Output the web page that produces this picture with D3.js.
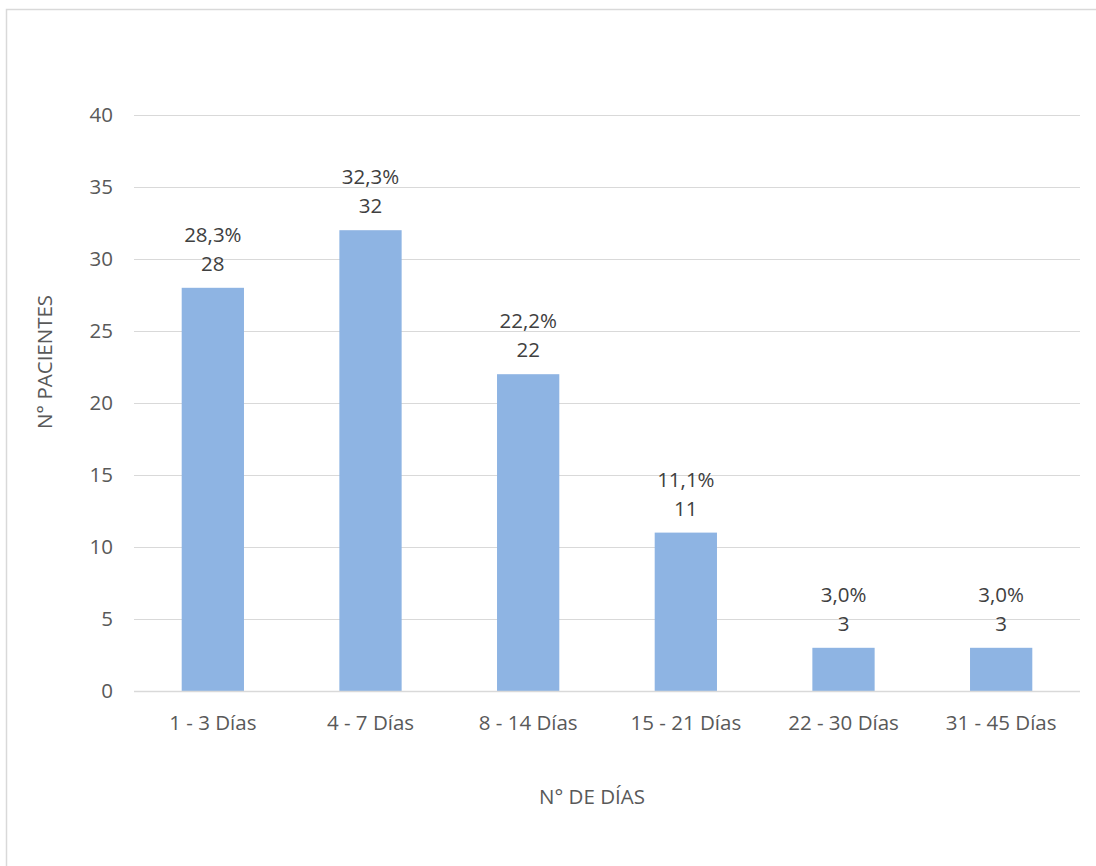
<!DOCTYPE html>
<html>
<head>
<meta charset="utf-8">
<script src="https://cdn.jsdelivr.net/npm/d3@7"></script>
<style>
  html, body { margin: 0; padding: 0; background: #fff; }
  svg { display: block; font-family: "Open Sans", "Liberation Sans", sans-serif; }
</style>
</head>
<body>
<svg id="chart" width="1096" height="866"></svg>
<script>
// Hospital stay distribution
const categories = ["1 - 3 Días", "4 - 7 Días", "8 - 14 Días", "15 - 21 Días", "22 - 30 Días", "31 - 45 Días"];
const patients = [28, 32, 22, 11, 3, 3];
const percentLabels = ["28,3%", "32,3%", "22,2%", "11,1%", "3,0%", "3,0%"];
const yTicks = [0, 5, 10, 15, 20, 25, 30, 35, 40];

const svg = d3.select("#chart");
const margin = { left: 134, right: 1080, top: 115, bottom: 691 };
const FS = 20.5;

// chart frame
svg.append("rect")
  .attr("x", 6.5).attr("y", 9.5)
  .attr("width", 1100).attr("height", 870)
  .attr("fill", "#fff").attr("stroke", "#d9d9d9").attr("stroke-width", 1.5);

const x = d3.scaleBand().domain(categories)
  .range([margin.left, margin.right]).paddingInner(0.605).paddingOuter(0.3025);
const y = d3.scaleLinear().domain([0, 40]).range([margin.bottom, margin.top]);

// gridlines
svg.append("g").selectAll("line").data(yTicks).join("line")
  .attr("x1", margin.left).attr("x2", margin.right)
  .attr("y1", d => Math.round(y(d)) + 0.5).attr("y2", d => Math.round(y(d)) + 0.5)
  .attr("stroke", "#d9d9d9").attr("stroke-width", 1);

// y axis labels
const yAxis = svg.append("g").attr("transform", `translate(${margin.left},0)`)
  .call(d3.axisLeft(y).tickValues(yTicks).tickSize(0).tickPadding(21));
yAxis.select(".domain").remove();
yAxis.selectAll("text").attr("font-size", FS).attr("fill", "#595959")
  .attr("font-family", "'Open Sans', sans-serif");

// bars
svg.append("g").selectAll("rect").data(patients).join("rect")
  .attr("x", (d, i) => x(categories[i]))
  .attr("y", d => y(d))
  .attr("width", x.bandwidth())
  .attr("height", d => y(0) - y(d))
  .attr("fill", "#8eb4e3");

// axis line
svg.append("line")
  .attr("x1", margin.left).attr("x2", margin.right)
  .attr("y1", Math.round(y(0)) + 0.5).attr("y2", Math.round(y(0)) + 0.5)
  .attr("stroke", "#d9d9d9").attr("stroke-width", 1.5);

// x axis labels
const xAxis = svg.append("g").attr("transform", `translate(0,${margin.bottom})`)
  .call(d3.axisBottom(x).tickSize(0).tickPadding(24));
xAxis.select(".domain").remove();
xAxis.selectAll("text").attr("font-size", FS).attr("fill", "#595959")
  .attr("font-family", "'Open Sans', sans-serif");

// data labels: percentage on top, count below
const labels = svg.append("g").selectAll("g").data(patients).join("g")
  .attr("transform", (d, i) => `translate(${x(categories[i]) + x.bandwidth() / 2},${y(d)})`);
labels.append("text").attr("y", -53).attr("dy", "0.35em").attr("text-anchor", "middle")
  .attr("font-size", FS).attr("fill", "#404040")
  .text((d, i) => percentLabels[i]);
labels.append("text").attr("y", -24).attr("dy", "0.35em").attr("text-anchor", "middle")
  .attr("font-size", FS).attr("fill", "#404040")
  .text(d => d);

// axis titles
svg.append("text").attr("x", 592).attr("y", 797).attr("dy", "0.35em").attr("text-anchor", "middle")
  .attr("font-size", FS).attr("fill", "#595959").text("N° DE DÍAS");
svg.append("text").attr("transform", "translate(45,362) rotate(-90)")
  .attr("dy", "0.35em").attr("text-anchor", "middle")
  .attr("font-size", FS).attr("fill", "#595959").text("N° PACIENTES");
</script>
</body>
</html>
